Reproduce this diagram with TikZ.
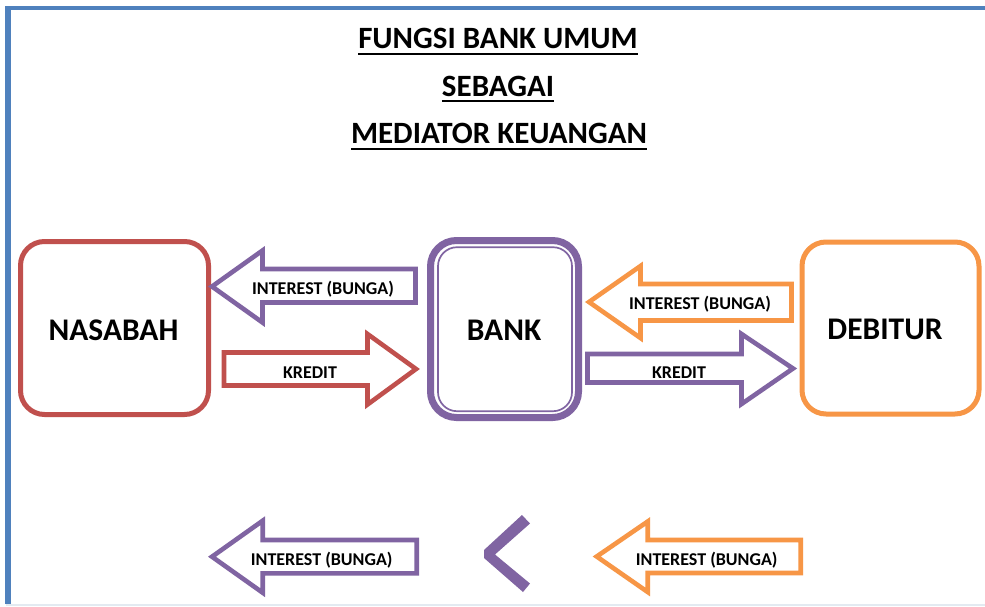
\documentclass[tikz,border=0pt]{standalone}
\usepackage{fontspec}
\setmainfont{Carlito}
\begin{document}
\begin{tikzpicture}[x=1pt,y=-1pt,
  every node/.style={inner sep=0pt,outer sep=0pt},
  boxlabel/.style={anchor=base,font=\fontsize{31.5}{36}\selectfont\bfseries},
  arrowlabel/.style={anchor=base,font=\fontsize{18}{21}\selectfont\bfseries},
  titleline/.style={anchor=base,font=\fontsize{31}{36}\selectfont\bfseries},
  ruleline/.style={line width=2pt},
  blockarrow/.style={draw=#1,line width=4.6pt,fill=white,line join=miter},
  entity/.style={draw=#1,line width=5pt,rounded corners=24pt,fill=white}]
\definecolor{bankpurple}{HTML}{8064A2}
\definecolor{nasred}{HTML}{C0504D}
\definecolor{deborange}{HTML}{F79646}
\definecolor{frameblue}{HTML}{4F81BD}
\definecolor{edgegray}{HTML}{E3EAF1}

\useasboundingbox (0,0) rectangle (985,606);
\fill[white] (0,0) rectangle (985,606);

% page frame
\draw[frameblue,line width=5.5pt] (8.2,604) -- (8.2,6);
\draw[frameblue,line width=4pt] (5.5,8) -- (985,8);
\fill[edgegray] (5.5,603.5) rectangle (985,606);

% title
\node[titleline] (t1) at (498,48.3) {FUNGSI BANK UMUM};
\node[titleline] (t2) at (498,96) {SEBAGAI};
\node[titleline] (t3) at (499,143.3) {MEDIATOR KEUANGAN};
\draw[ruleline] ([yshift=-6pt]t1.base west) -- ([yshift=-6pt]t1.base east);
\draw[ruleline] ([yshift=-5pt]t2.base west) -- ([yshift=-5pt]t2.base east);
\draw[ruleline] ([yshift=-6pt]t3.base west) -- ([yshift=-6pt]t3.base east);

% parties
\node[entity=nasred,minimum width=188pt,minimum height=173pt] (nasabah) at (114.5,328) {};
\node[entity=deborange,minimum width=177pt,minimum height=172pt] (debitur) at (890.5,328) {};
\node[draw=bankpurple,line width=7pt,rounded corners=26pt,fill=white,
      minimum width=148pt,minimum height=177pt] (bank) at (504.5,329) {};
\node[draw=bankpurple,line width=1.7pt,rounded corners=19pt,
      minimum width=134pt,minimum height=164pt] (bankin) at (505,329.2) {};

\node[boxlabel] (lnas) at (113.5,340) {NASABAH};
\node[boxlabel] (lbank) at (504,340) {BANK};
\node[boxlabel] (ldeb) at (885,339.3) {DEBITUR};

% flows between nasabah and bank
\draw[blockarrow=bankpurple] (212,286.5) -- (262.5,250.5) -- (262.5,269) -- (415.5,269)
  -- (415.5,302.5) -- (262.5,302.5) -- (262.5,322.5) -- cycle;
\node[arrowlabel] (i1) at (323,294) {INTEREST (BUNGA)};

\draw[blockarrow=nasred] (416,369) -- (367.5,334) -- (367.5,352.5) -- (224,352.5)
  -- (224,385.5) -- (367.5,385.5) -- (367.5,404.5) -- cycle;
\node[arrowlabel] (k1) at (310,378.3) {KREDIT};

% flows between bank and debitur
\draw[blockarrow=deborange] (589,302) -- (640.5,266) -- (640.5,284) -- (791.5,284)
  -- (791.5,320.5) -- (640.5,320.5) -- (640.5,338) -- cycle;
\node[arrowlabel] (i2) at (700,309.3) {INTEREST (BUNGA)};

\draw[blockarrow=bankpurple] (793,368.5) -- (741.5,334) -- (741.5,354) -- (587.5,354)
  -- (587.5,382.5) -- (741.5,382.5) -- (741.5,404) -- cycle;
\node[arrowlabel] (k2) at (679,378.3) {KREDIT};

% comparison of interest rates
\draw[blockarrow=bankpurple] (212,556.7) -- (262.7,520.7) -- (262.7,540) -- (416.7,540)
  -- (416.7,573.3) -- (262.7,573.3) -- (262.7,592.7) -- cycle;
\node[arrowlabel] (i3) at (321.7,565.7) {INTEREST (BUNGA)};

\fill[bankpurple] (522,515) -- (530,523.5) -- (495,554.5) -- (530,583.5) -- (523,592)
  -- (484,558) -- (484,550) -- cycle;

\draw[blockarrow=deborange] (596.7,556.5) -- (647.7,521.5) -- (647.7,540) -- (800.7,540)
  -- (800.7,573) -- (647.7,573) -- (647.7,592) -- cycle;
\node[arrowlabel] (i4) at (706.7,565.7) {INTEREST (BUNGA)};
\end{tikzpicture}
\end{document}
